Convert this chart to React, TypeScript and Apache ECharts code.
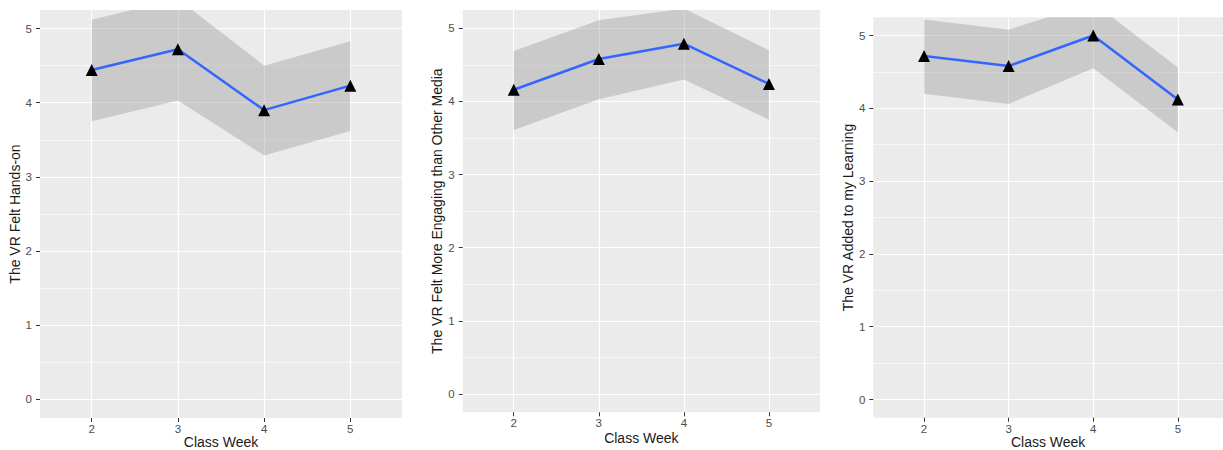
import React, { useEffect, useRef } from "react";
import * as echarts from "echarts";

const weeks = [2, 3, 4, 5];
const yTicks = [0, 1, 2, 3, 4, 5];
const yMinorTicks = [0.5, 1.5, 2.5, 3.5, 4.5];

const handsOnMean = [4.44, 4.72, 3.9, 4.23];
const handsOnLower = [3.75, 4.03, 3.29, 3.62];
const handsOnUpper = [5.12, 5.4, 4.5, 4.83];

const engagingMean = [4.16, 4.58, 4.79, 4.24];
const engagingLower = [3.61, 4.03, 4.3, 3.75];
const engagingUpper = [4.69, 5.11, 5.27, 4.7];

const learningMean = [4.72, 4.58, 5.0, 4.12];
const learningLower = [4.2, 4.06, 4.55, 3.67];
const learningUpper = [5.22, 5.08, 5.45, 4.56];

const xTitle = "Class Week";
const yTitles = [
  "The VR Felt Hands-on",
  "The VR Felt More Engaging than Other Media",
  "The VR Added to my Learning",
];

const FONT = "'Liberation Sans', Arial, Helvetica, sans-serif";

const panels = [
  { mean: handsOnMean, lower: handsOnLower, upper: handsOnUpper, grid: { left: 40, top: 10, width: 362, height: 408 }, xMax: 5.6, xNameGap: 17 },
  { mean: engagingMean, lower: engagingLower, upper: engagingUpper, grid: { left: 462.7, top: 10, width: 357.3, height: 402.3 }, xMax: 5.6, xNameGap: 19 },
  { mean: learningMean, lower: learningLower, upper: learningUpper, grid: { left: 873.3, top: 17.3, width: 349.7, height: 400.4 }, xMax: 5.534, xNameGap: 17 },
];

export default function App() {
  const ref = useRef<HTMLDivElement>(null);
  useEffect(() => {
    if (!ref.current) return;
    const chart = echarts.init(ref.current, undefined, { renderer: "svg" });
    const grids: any[] = [];
    const xAxes: any[] = [];
    const yAxes: any[] = [];
    const series: any[] = [];
    panels.forEach((p, i) => {
      grids.push({
        ...p.grid,
        show: true,
        backgroundColor: "#EBEBEB",
        borderWidth: 0,
        containLabel: false,
        outerBoundsMode: "none",
      });
      xAxes.push({
        type: "value",
        gridIndex: i,
        position: "bottom",
        min: 1.4,
        max: p.xMax,
        name: xTitle,
        nameLocation: "middle",
        nameGap: p.xNameGap,
        nameMoveOverlap: false,
        nameTextStyle: { fontFamily: FONT, fontSize: 14, lineHeight: 14, color: "#1a1a1a" },
        axisLine: { show: false, onZero: false },
        axisTick: { show: true, length: 4, customValues: weeks, lineStyle: { color: "#333333", width: 1 } },
        axisLabel: { show: true, customValues: weeks, margin: 5, fontFamily: FONT, fontSize: 11.5, color: "#4D4D4D", formatter: (v: number) => String(v) },
        splitLine: { show: true, lineStyle: { color: "#FFFFFF", width: 1.2 } },
        minorSplitLine: { show: false },
      });
      yAxes.push({
        type: "value",
        gridIndex: i,
        min: -0.25,
        max: 5.25,
        name: yTitles[i],
        nameLocation: "middle",
        nameGap: 17,
        nameTextStyle: { fontFamily: FONT, fontSize: 14, color: "#1a1a1a" },
        axisLine: { show: false, onZero: false },
        axisTick: { show: true, length: 4, customValues: yTicks, lineStyle: { color: "#333333", width: 1 } },
        axisLabel: { show: true, customValues: yTicks, margin: 8, fontFamily: FONT, fontSize: 11.5, color: "#4D4D4D", formatter: (v: number) => String(v) },
        splitLine: { show: true, lineStyle: { color: "#FFFFFF", width: 1.2 } },
      });
      yAxes.push({
        type: "value",
        gridIndex: i,
        min: -0.25,
        max: 5.25,
        position: "left",
        axisLine: { show: false, onZero: false },
        axisTick: { show: false, customValues: yMinorTicks },
        axisLabel: { show: false, customValues: yMinorTicks },
        splitLine: { show: true, lineStyle: { color: "#FFFFFF", width: 0.6 } },
      });
      const yIdx = i * 2;
      const lower = p.lower;
      const upper = p.upper;
      series.push({
        type: "custom",
        xAxisIndex: i,
        yAxisIndex: yIdx,
        data: weeks.map((w, k) => [w, lower[k], upper[k]]),
        encode: { x: 0, y: [1, 2] },
        clip: true,
        silent: true,
        z: 1,
        renderItem: (params: any, api: any) => {
          if (params.dataIndex !== 0) return null;
          const pts: number[][] = [];
          weeks.forEach((w, k) => pts.push(api.coord([w, upper[k]])));
          for (let k = weeks.length - 1; k >= 0; k--) pts.push(api.coord([weeks[k], lower[k]]));
          return {
            type: "polygon",
            shape: { points: pts },
            style: { fill: "rgba(153,153,153,0.4)", stroke: "none" },
          };
        },
      });
      series.push({
        type: "line",
        xAxisIndex: i,
        yAxisIndex: yIdx,
        data: weeks.map((w, k) => [w, p.mean[k]]),
        symbol: "triangle",
        symbolSize: 12,
        showSymbol: true,
        lineStyle: { color: "#3366FF", width: 2.5 },
        itemStyle: { color: "#000000" },
        clip: true,
        z: 3,
      });
    });
    chart.setOption({
      animation: false,
      backgroundColor: "#FFFFFF",
      grid: grids,
      xAxis: xAxes,
      yAxis: yAxes,
      series,
    });
    return () => chart.dispose();
  }, []);
  return (
    <div
      ref={ref}
      style={{ position: "fixed", left: 0, top: 0, width: 1223, height: 450 }}
    />
  );
}
